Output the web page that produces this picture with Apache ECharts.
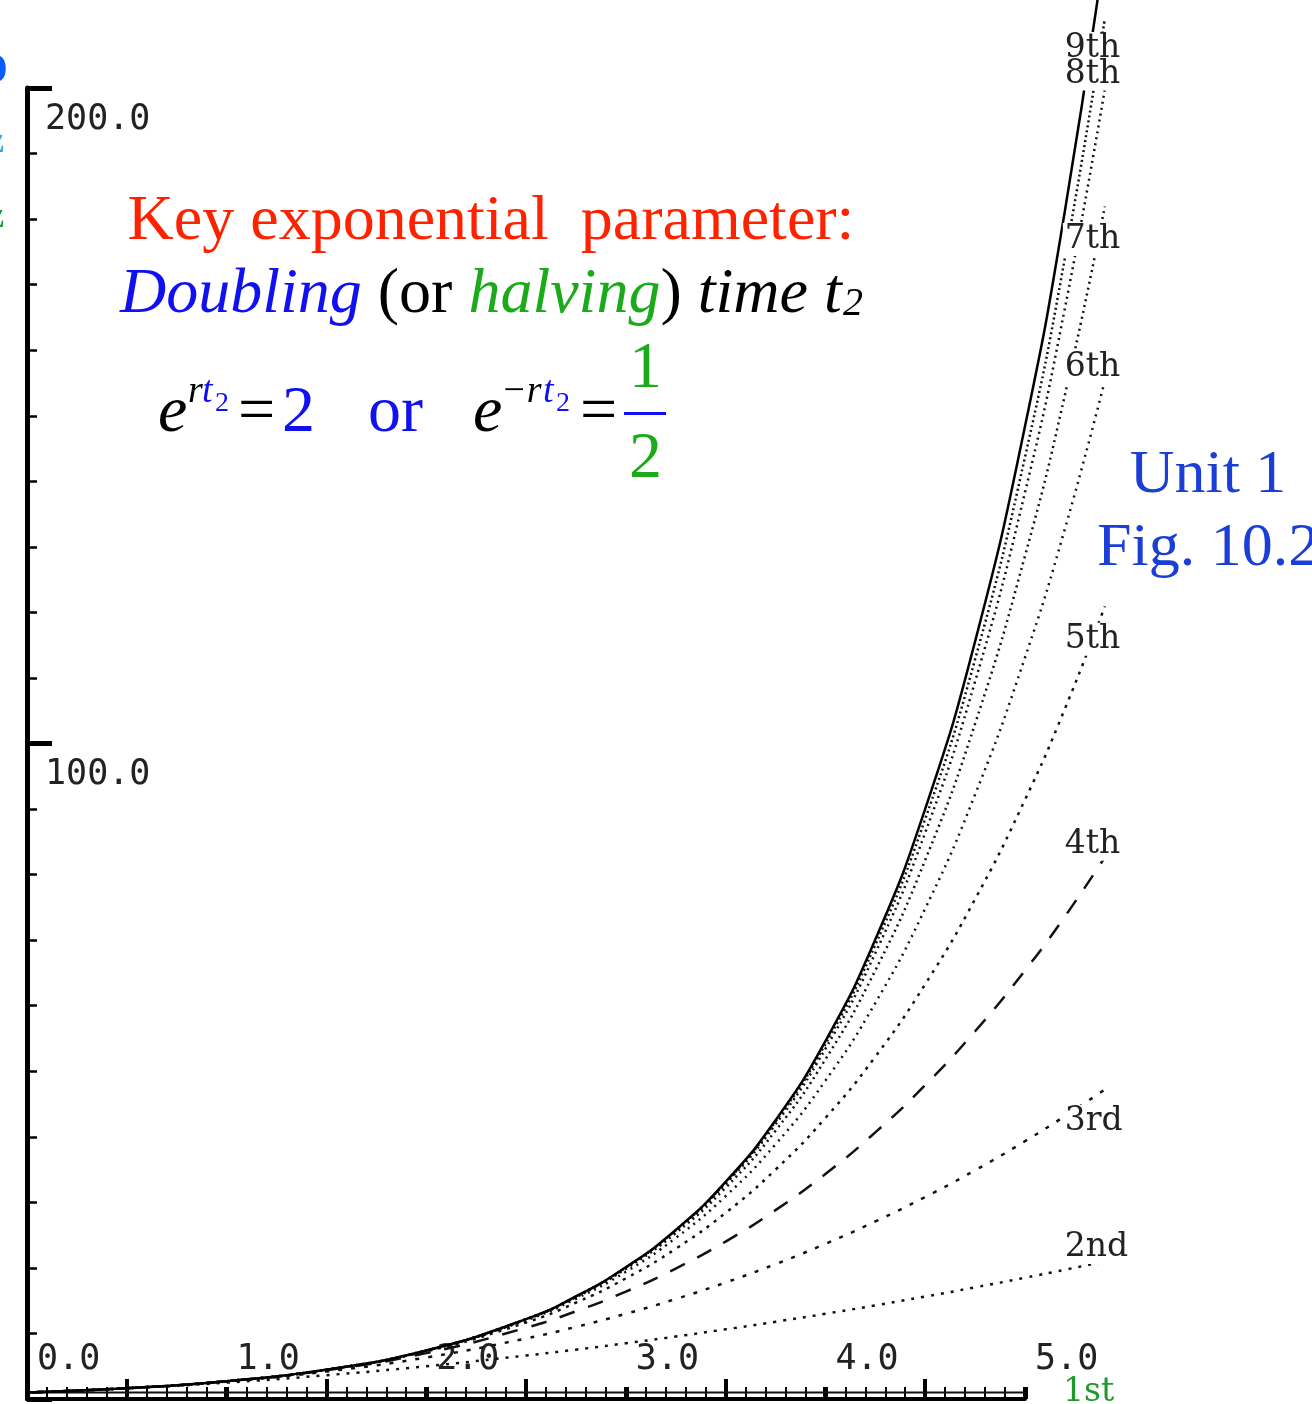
<!DOCTYPE html>
<html>
<head>
<meta charset="utf-8">
<script src="https://cdn.jsdelivr.net/npm/echarts@6/dist/echarts.min.js"></script>
<style>
  html, body { margin: 0; padding: 0; background: #fff; }
  #taylorChart { width: 1312px; height: 1404px; }
</style>
</head>
<body>
<div id="taylorChart"></div>
<script>
var xs = [0, 0.5, 1, 1.5, 2, 2.5, 2.75, 3, 3.25, 3.5, 3.75, 4, 4.25, 4.5, 4.75, 5, 5.2, 5.4]

// exact exponential and its truncated series
var expVals = [1, 1.65, 2.72, 4.48, 7.39, 12.18, 15.64, 20.09, 25.79, 33.12, 42.52, 54.6, 70.1, 90.02, 115.58, 148.4, 181.27, 221.4]
var order9 = [1, 1.65, 2.72, 4.48, 7.39, 12.18, 15.63, 20.06, 25.74, 33.0, 42.3, 54.15, 69.27, 88.48, 112.85, 143.69, 174.08, 210.61]
var order8 = [1, 1.65, 2.72, 4.48, 7.39, 12.17, 15.61, 20.01, 25.63, 32.79, 41.89, 53.43, 68.02, 86.39, 109.46, 138.31, 166.42, 199.85]
var order7 = [1, 1.65, 2.72, 4.48, 7.38, 12.13, 15.53, 19.85, 25.32, 32.23, 40.92, 51.81, 65.38, 82.22, 103.03, 128.62, 153.16, 181.92]
var order6 = [1, 1.65, 2.72, 4.48, 7.36, 12.01, 15.29, 19.41, 24.56, 30.95, 38.85, 48.56, 60.41, 74.81, 92.21, 113.12, 132.76, 155.36]
var order5 = [1, 1.65, 2.72, 4.46, 7.27, 11.67, 14.69, 18.4, 22.92, 28.4, 34.99, 42.87, 52.22, 63.28, 76.26, 91.42, 105.3, 120.92]
var order4 = [1, 1.65, 2.71, 4.4, 7.0, 10.86, 13.38, 16.38, 19.9, 24.02, 28.81, 34.33, 40.67, 47.9, 56.1, 65.38, 73.62, 82.65]
var order3 = [1, 1.65, 2.67, 4.19, 6.33, 9.23, 11.0, 13.0, 15.25, 17.77, 20.57, 23.67, 27.08, 30.81, 34.89, 39.33, 43.16, 47.22]
var order2 = [1, 1.63, 2.5, 3.63, 5.0, 6.63, 7.53, 8.5, 9.53, 10.63, 11.78, 13.0, 14.28, 15.63, 17.03, 18.5, 19.72, 20.98]
var order0 = [1, 1, 1, 1, 1, 1, 1, 1, 1, 1, 1, 1, 1, 1, 1, 1]

var curveNames = ['1st', '2nd', '3rd', '4th', '5th', '6th', '7th', '8th', '9th']
var xHalfTicks = [0.5, 1.5, 2.5, 3.5, 4.5]

var chart = echarts.init(document.getElementById('taylorChart'))

function pts(arr) {
  return arr.map(function (v, i) { return [xs[i], v] })
}

var labelFont = {
  fontFamily: 'DejaVu Serif',
  fontSize: 33,
  color: '#222',
  backgroundColor: '#fff',
  padding: [0, 2],
  distance: 5
}

// curves live on grid 1 (wider range) so they can run past 5.0 like the original
function curve(name, arr, dash, dy) {
  return {
    name: name,
    type: 'line',
    xAxisIndex: 2,
    yAxisIndex: 1,
    data: pts(arr),
    smooth: true,
    clip: false,
    showSymbol: false,
    silent: true,
    lineStyle: { color: '#111', width: 2.5, type: dash },
    endLabel: Object.assign({}, labelFont, {
      show: true,
      formatter: name,
      offset: [-47, dy]
    })
  }
}

var option = {
  animation: false,
  backgroundColor: '#fff',
  grid: [
    { left: 27, right: 287, top: 88, bottom: 5, containLabel: false },
    { left: 27, right: 187.2, top: 22.45, bottom: 5, containLabel: false }
  ],
  xAxis: [
    {
      type: 'value',
      gridIndex: 0,
      min: 0,
      max: 5,
      interval: 1,
      axisLine: { show: true, lineStyle: { color: '#000', width: 4 } },
      axisTick: { show: true, inside: true, length: 12, lineStyle: { color: '#000', width: 5 } },
      minorTick: { show: true, splitNumber: 10, length: 12, lineStyle: { color: '#000', width: 2 } },
      splitLine: { show: false },
      minorSplitLine: { show: false },
      axisLabel: {
        inside: true,
        margin: 22,
        align: 'left',
        verticalAlign: 'bottom',
        padding: [0, 0, 0, 10],
        fontFamily: 'DejaVu Sans Mono',
        fontSize: 35,
        color: '#222',
        formatter: function (v) { return v.toFixed(1) }
      }
    },
    {
      type: 'value',
      gridIndex: 0,
      min: 0,
      max: 5,
      position: 'bottom',
      axisLine: { show: false },
      axisTick: { show: true, inside: true, length: 20, customValues: xHalfTicks, lineStyle: { color: '#000', width: 4 } },
      axisLabel: { show: false },
      splitLine: { show: false }
    },
    {
      type: 'value',
      gridIndex: 1,
      min: 0,
      max: 5.5,
      show: false
    }
  ],
  yAxis: [
    {
      type: 'value',
      gridIndex: 0,
      min: 0,
      max: 200,
      interval: 100,
      axisLine: { show: true, lineStyle: { color: '#000', width: 5 } },
      axisTick: { show: true, inside: true, length: 25, lineStyle: { color: '#000', width: 5 } },
      minorTick: { show: true, splitNumber: 10, length: 10, lineStyle: { color: '#000', width: 2.5 } },
      splitLine: { show: false },
      minorSplitLine: { show: false },
      axisLabel: {
        inside: true,
        margin: 18,
        align: 'left',
        verticalAlign: 'top',
        padding: [14, 0, 0, 0],
        fontFamily: 'DejaVu Sans Mono',
        fontSize: 35,
        color: '#222',
        formatter: function (v) { return v === 0 ? '' : v.toFixed(1) }
      }
    },
    {
      type: 'value',
      gridIndex: 1,
      min: 0,
      max: 210,
      show: false
    }
  ],
  series: [
    {
      name: '0th',
      type: 'line',
      xAxisIndex: 2,
      yAxisIndex: 1,
      data: pts(order0),
      showSymbol: false,
      silent: true,
      lineStyle: { color: '#111', width: 2 }
    },
    curve(curveNames[1], order2, [3, 7], -14),
    curve(curveNames[2], order3, [4, 9], 32),
    curve(curveNames[3], order4, [16, 14], -13),
    curve(curveNames[4], order5, [3, 6], 33),
    curve(curveNames[5], order6, [2, 5], -13),
    curve(curveNames[6], order7, [2, 4], 33),
    curve(curveNames[8], order9, [2, 3], 30),
    curve(curveNames[7], order8, [2, 4], -15),
    {
      name: 'exact',
      type: 'line',
      xAxisIndex: 2,
      yAxisIndex: 1,
      data: pts(expVals),
      smooth: true,
      clip: false,
      showSymbol: false,
      silent: true,
      lineStyle: { color: '#000', width: 2.5 }
    }
  ],
  graphic: [
    // title lines
    {
      type: 'text', x: 491, y: 222,
      style: {
        text: 'Key exponential  parameter:',
        fill: '#ff2200',
        font: '64px "Liberation Serif"',
        textAlign: 'center', textVerticalAlign: 'middle'
      }
    },
    {
      type: 'text', x: 120, y: 295,
      style: {
        text: '{d|Doubling}{n| (or }{h|halving}{n|) }{t|time t}',
        textAlign: 'left', textVerticalAlign: 'middle',
        rich: {
          d: { fill: '#1010f0', font: 'italic 64px "Liberation Serif"' },
          n: { fill: '#000', font: '64px "Liberation Serif"' },
          h: { fill: '#1aaa1a', font: 'italic 64px "Liberation Serif"' },
          t: { fill: '#000', font: 'italic 64px "Liberation Serif"' }
        }
      }
    },
    { type: 'text', x: 843, y: 304, style: { text: '2', fill: '#000', font: 'italic 40px "Liberation Serif"', textVerticalAlign: 'middle' } },

    // e^{r t2} = 2  or  e^{-r t2} = 1/2
    { type: 'text', x: 158, y: 414, style: { text: 'e', fill: '#000', font: 'italic 66px "Liberation Serif"', textVerticalAlign: 'middle' } },
    { type: 'text', x: 188, y: 392, style: { text: 'r', fill: '#000', font: 'italic 38px "Liberation Serif"', textVerticalAlign: 'middle' } },
    { type: 'text', x: 202, y: 392, style: { text: 't', fill: '#1010f0', font: 'italic 38px "Liberation Serif"', textVerticalAlign: 'middle' } },
    { type: 'text', x: 215, y: 404, style: { text: '2', fill: '#1010f0', font: '28px "Liberation Serif"', textVerticalAlign: 'middle' } },
    { type: 'text', x: 238, y: 414, style: { text: '=', fill: '#000', font: '66px "Liberation Serif"', textVerticalAlign: 'middle' } },
    { type: 'text', x: 282, y: 414, style: { text: '2', fill: '#1010f0', font: '66px "Liberation Serif"', textVerticalAlign: 'middle' } },
    { type: 'text', x: 368, y: 414, style: { text: 'or', fill: '#1010f0', font: '66px "Liberation Serif"', textVerticalAlign: 'middle' } },
    { type: 'text', x: 473, y: 414, style: { text: 'e', fill: '#000', font: 'italic 66px "Liberation Serif"', textVerticalAlign: 'middle' } },
    { type: 'text', x: 501, y: 392, style: { text: '\u2212r', fill: '#000', font: 'italic 38px "Liberation Serif"', textVerticalAlign: 'middle' } },
    { type: 'text', x: 543, y: 392, style: { text: 't', fill: '#1010f0', font: 'italic 38px "Liberation Serif"', textVerticalAlign: 'middle' } },
    { type: 'text', x: 556, y: 404, style: { text: '2', fill: '#1010f0', font: '28px "Liberation Serif"', textVerticalAlign: 'middle' } },
    { type: 'text', x: 580, y: 414, style: { text: '=', fill: '#000', font: '66px "Liberation Serif"', textVerticalAlign: 'middle' } },
    { type: 'text', x: 629, y: 370, style: { text: '1', fill: '#1aaa1a', font: '66px "Liberation Serif"', textVerticalAlign: 'middle' } },
    { type: 'rect', shape: { x: 624, y: 412, width: 42, height: 3 }, style: { fill: '#1010f0' } },
    { type: 'text', x: 629, y: 460, style: { text: '2', fill: '#1aaa1a', font: '66px "Liberation Serif"', textVerticalAlign: 'middle' } },

    // slide caption on the right
    { type: 'text', x: 1208, y: 476, style: { text: 'Unit 1', fill: '#1a3ed6', font: '62px "Liberation Serif"', textAlign: 'center', textVerticalAlign: 'middle' } },
    { type: 'text', x: 1097, y: 549, style: { text: 'Fig. 10.2', fill: '#1a3ed6', font: '62px "Liberation Serif"', textVerticalAlign: 'middle' } },

    // green label of the first-order curve, cut by the bottom edge
    { type: 'text', x: 1063, y: 1392, style: { text: curveNames[0], fill: '#1f9a2a', font: '33px "DejaVu Serif"', textVerticalAlign: 'middle' } },

    // clipped slide text at the left edge
    { type: 'text', x: -22, y: 66, style: { text: 'o', fill: '#0a5cff', font: 'bold 60px "Liberation Serif"', textVerticalAlign: 'middle' } },
    { type: 'text', x: -12, y: 143, style: { text: 'z', fill: '#2aa6e6', font: 'bold 36px "Liberation Serif"', textVerticalAlign: 'middle' } },
    { type: 'text', x: -12, y: 218, style: { text: 'z', fill: '#1a9a3a', font: 'bold 36px "Liberation Serif"', textVerticalAlign: 'middle' } }
  ]
}

chart.setOption(option)
window.addEventListener('resize', function () {
  chart.resize()
})
</script>
</body>
</html>
